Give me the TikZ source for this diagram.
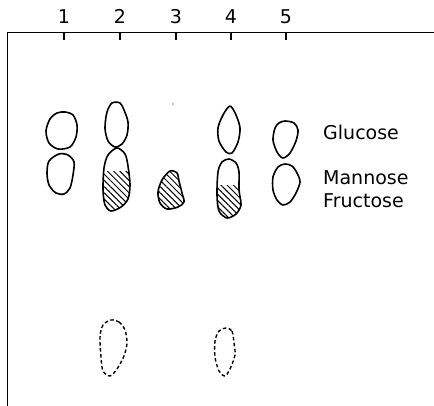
\documentclass[tikz,border=0pt]{standalone}
\usepackage{fontspec}
\setmainfont{DejaVu Sans}
\usepackage{tikz}
\usetikzlibrary{patterns.meta}

\begin{document}
\begin{tikzpicture}[
  x=1pt, y=-1pt,
  frame/.style={line width=1.8pt},
  spot/.style={line width=1.6pt, line join=round},
  faint/.style={line width=1.4pt, dash pattern=on 3.5pt off 2.5pt},
  hatch/.style={pattern={Lines[angle=-45,distance=4.4pt,line width=1pt]}},
  lbl/.style={font=\fontsize{19}{21}\selectfont, inner sep=0pt}
]
  \useasboundingbox (0,0) rectangle (434,406);

  % plate edges and lanes
  \draw[frame] (7.5,406) -- (7.5,32.5) -- (434,32.5);
  \foreach \x/\n in {64/1,120/2,176/3,231/4,286/5} {
    \draw[line width=1.1pt] (\x,32.5) -- (\x,40);
    \node[lbl, anchor=base] (lane\n) at (\x,24) {\n};
  }

  % lane 1
  \draw[spot] plot[smooth cycle] coordinates {(65,112) (73,115) (77,125) (76,137) (70,147) (58,149) (49,143) (46,131) (50,119) (57,113)};
  \draw[spot] plot[smooth cycle] coordinates {(59,154) (68,155) (74,162) (73,175) (70,188) (64,194) (56,193) (49,185) (47,173) (49,161)};

  % lane 2
  \draw[spot] plot[smooth cycle] coordinates {(112,103) (120,103) (124,110) (128,122) (127,135) (122,144) (115,147) (108,141) (105,128) (107,112)};
  \def\spotB{(117,148) (125,154) (128,166) (130,185) (128,199) (121,207) (111,211) (105,205) (103,190) (104,168) (108,155)}
  \begin{scope}
    \clip plot[smooth cycle] coordinates {\spotB};
    \fill[hatch] (90,172) rectangle (140,215);
  \end{scope}
  \draw[spot] plot[smooth cycle] coordinates {\spotB};
  \draw[faint] plot[smooth cycle] coordinates {(111,320) (119,322) (125,330) (127,343) (124,356) (117,369) (110,376) (103,371) (101,357) (100,337) (103,325)};

  % lane 3
  \def\spotC{(170,171) (177,173) (179,181) (182,193) (184,202) (178,207) (167,209) (160,203) (158,192) (162,180)}
  \fill[hatch] plot[smooth cycle] coordinates {\spotC};
  \draw[spot] plot[smooth cycle] coordinates {\spotC};
  \fill (173,104) circle (0.6);

  % lane 4
  \draw[spot] plot[smooth cycle] coordinates {(230,106) (236,115) (240,128) (238,142) (232,153) (226,152) (219,141) (218,128) (223,115)};
  \def\spotD{(229,159) (236,163) (239,172) (239,190) (241,205) (236,214) (227,218) (219,211) (217,195) (218,172) (222,162)}
  \begin{scope}
    \clip plot[smooth cycle] coordinates {\spotD};
    \fill[hatch] (205,186) rectangle (250,222);
  \end{scope}
  \draw[spot] plot[smooth cycle] coordinates {\spotD};
  \draw[faint] plot[smooth cycle] coordinates {(226,328) (232,331) (234,343) (235,355) (230,369) (225,376) (219,371) (215,357) (215,341) (219,331)};

  % lane 5
  \draw[spot] plot[smooth cycle] coordinates {(285,121) (294,123) (298,130) (296,141) (290,153) (283,158) (277,152) (273,140) (275,128) (279,123)};
  \draw[spot] plot[smooth cycle] coordinates {(285,164) (292,166) (297,173) (300,182) (296,193) (290,202) (283,205) (277,200) (273,190) (273,177) (278,167)};

  % sugars
  \node[lbl, anchor=base west] (glu) at (323,140) {Glucose};
  \node[lbl, anchor=base west] (man) at (323,185) {Mannose};
  \node[lbl, anchor=base west] (fru) at (323,208) {Fructose};
\end{tikzpicture}
\end{document}
